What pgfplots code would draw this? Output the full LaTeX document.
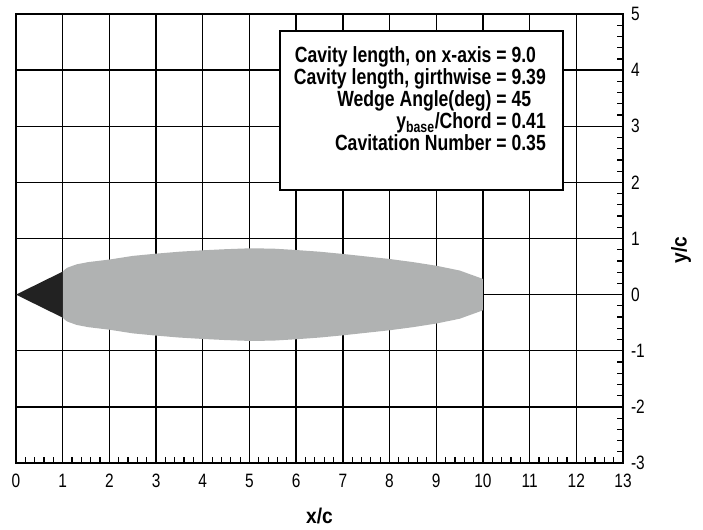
\documentclass[border=0pt]{standalone}
\usepackage{fontspec}
\setmainfont{Liberation Sans}[FakeStretch=0.85]
\newfontfamily\tickfont{Liberation Sans}[FakeStretch=0.8]
\newfontfamily\boxfont{Liberation Sans}[FakeStretch=0.8]
\newfontfamily\labfont{Liberation Sans}[FakeStretch=0.9]
\usepackage{pgfplots}
\pgfplotsset{compat=1.18}
\definecolor{cav}{RGB}{176,178,178}
\definecolor{wedge}{RGB}{34,34,34}
\begin{document}
\begin{tikzpicture}
\begin{axis}[
  at={(0,0)}, anchor=south west,
  scale only axis, width=455.25pt, height=336.75pt,
  xmin=0, xmax=13, ymin=-3, ymax=5,
  xtick distance=1, ytick distance=1,
  minor x tick num=4, minor y tick num=4,
  xtick pos=left, ytick pos=right, yticklabel pos=right,
  tick align=inside,
  major tick length=6pt, minor tick length=4.5pt,
  grid=major, major grid style={black, line width=1pt},
  axis line style={black, line width=1.2pt},
  tick style={black, line width=0.9pt},
  /pgf/number format/assume math mode=true,
  ticklabel style={font=\tickfont\fontsize{14.5}{14.5}\selectfont},
  xticklabel style={yshift=-4.5pt},
  yticklabel style={xshift=2.5pt},
  xlabel={x/c}, ylabel={y/c},
  xlabel style={font=\labfont\bfseries\fontsize{16}{16}\selectfont, at={(axis description cs:0.5,0)}, anchor=center, yshift=-39.5pt},
  ylabel style={font=\labfont\bfseries\fontsize{16}{16}\selectfont, at={(axis description cs:1,0.474)}, anchor=center, yshift=-43.5pt},
]
\addplot[fill=cav, draw=none] coordinates {
 (1,0.41) (1.05,0.45) (1.1,0.48) (1.3,0.54) (1.55,0.58) (2,0.625) (2.5,0.69)
 (3,0.73) (3.5,0.765) (4,0.79) (4.5,0.81) (5,0.825) (5.5,0.82) (6,0.795)
 (6.5,0.765) (7,0.725) (7.5,0.68) (8,0.635) (8.5,0.58) (9,0.515) (9.5,0.43)
 (9.8,0.34) (10,0.28)
 (10,-0.28) (9.8,-0.34) (9.5,-0.43) (9,-0.515) (8.5,-0.58) (8,-0.635)
 (7.5,-0.68) (7,-0.725) (6.5,-0.765) (6,-0.795) (5.5,-0.82) (5,-0.825)
 (4.5,-0.81) (4,-0.79) (3.5,-0.765) (3,-0.73) (2.5,-0.69) (2,-0.625)
 (1.55,-0.58) (1.3,-0.54) (1.1,-0.48) (1.05,-0.45) (1,-0.41)
};
\addplot[fill=wedge, draw=none] coordinates {(0,0) (1,0.41) (1,-0.41)};
\draw[line width=1.2pt, fill=white] (axis cs:5.65,4.70) rectangle (axis cs:11.71,1.86);
\node[inner sep=0pt, anchor=center, font=\boxfont\bfseries\fontsize{16.5}{15.5}\selectfont] at (axis cs:8.65,3.44)
 {\begin{tabular}{@{}r@{ = }l@{}}
 Cavity length, on x-axis & 9.0\\
 Cavity length, girthwise & 9.39\\
 Wedge Angle(deg) & 45\\
 y\textsubscript{base}/Chord & 0.41\\
 Cavitation Number & 0.35
 \end{tabular}};
\end{axis}
\pgfresetboundingbox
\path[use as bounding box] (-12pt,-49.5pt) rectangle (515.25pt,347.25pt);
\end{tikzpicture}
\end{document}
